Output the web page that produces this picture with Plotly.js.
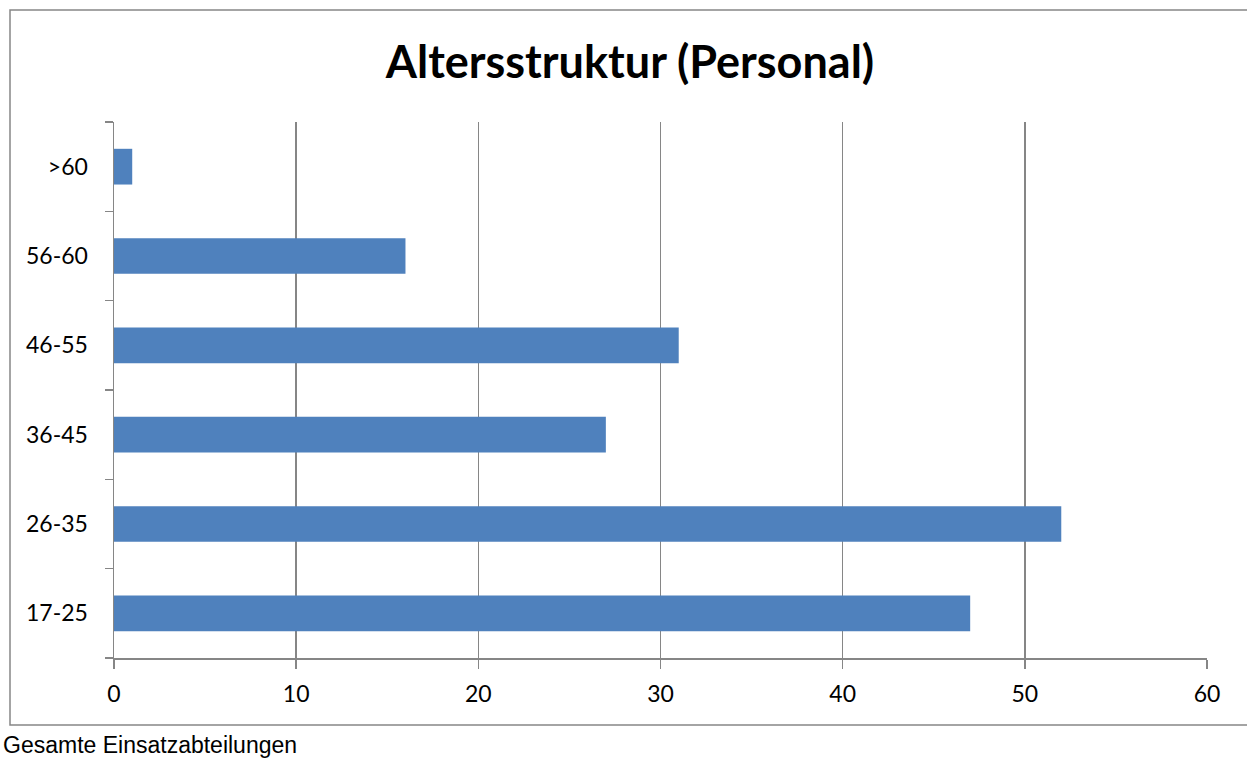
<!DOCTYPE html>
<html>
<head>
<meta charset="utf-8">
<script src="https://cdn.plot.ly/plotly-3.0.1.min.js"></script>
<style>
html,body{margin:0;padding:0;background:#fff;}
#chart{width:1247px;height:760px;}
</style>
</head>
<body>
<div id="chart"></div>
<script>
const categories = ['17-25', '26-35', '36-45', '46-55', '56-60', '>60'];
const values = [47, 52, 27, 31, 16, 1];
const xTicks = [0, 10, 20, 30, 40, 50, 60];
const titleText = 'Altersstruktur (Personal)';
const captionText = 'Gesamte Einsatzabteilungen';

const W = 1247, H = 760;
const L = 114, R = 1207, T = 122, B = 658;
const px = v => (v - L) / (R - L);
const py = v => (B - v) / (B - T);

const grey = '#868686';
const font = 'Lato, "Open Sans", sans-serif';

const trace = {
  type: 'bar',
  orientation: 'h',
  y: categories,
  x: values,
  marker: {color: '#4F81BD', line: {width: 0}},
  hoverinfo: 'x+y'
};

const layout = {
  width: W, height: H,
  margin: {l: L, r: W - R, t: T, b: H - B, pad: 0},
  paper_bgcolor: '#fff',
  plot_bgcolor: '#fff',
  showlegend: false,
  bargap: 0.6,
  title: {
    text: '<b>' + titleText + '</b>',
    font: {family: font, size: 45, color: '#000'},
    x: 630 / W, xanchor: 'center', xref: 'container',
    y: 1 - 62 / H, yanchor: 'middle', yref: 'container'
  },
  xaxis: {
    range: [0, 60],
    tickvals: xTicks,
    ticktext: xTicks.map(String),
    showgrid: true, gridcolor: grey, gridwidth: 1.5,
    zeroline: false,
    showline: true, linecolor: grey, linewidth: 1.5,
    ticks: 'outside', ticklen: 9, tickcolor: grey, tickwidth: 1.5,
    tickfont: {family: font, size: 23, color: '#000'},
    ticklabelstandoff: 6,
    fixedrange: true
  },
  yaxis: {
    type: 'category',
    categoryorder: 'array',
    categoryarray: categories,
    range: [-0.5, 5.5],
    showgrid: false, zeroline: false,
    showline: true, linecolor: grey, linewidth: 1.5,
    ticks: 'outside', ticklen: 8, tickcolor: grey, tickwidth: 1.5,
    tickson: 'boundaries',
    tickfont: {family: font, size: 23, color: '#000'},
    ticklabelstandoff: 20,
    fixedrange: true
  },
  shapes: [{
    type: 'rect', xref: 'paper', yref: 'paper',
    x0: px(10), x1: px(1252), y0: py(725), y1: py(10),
    line: {color: grey, width: 1.5}, fillcolor: 'rgba(0,0,0,0)', layer: 'below'
  }],
  annotations: [{
    text: captionText, xref: 'paper', yref: 'paper',
    x: px(1), y: py(745), xanchor: 'left', yanchor: 'middle',
    showarrow: false,
    font: {family: '"Liberation Sans", Arial, sans-serif', size: 23, color: '#000'}
  }]
};

Plotly.newPlot('chart', [trace], layout, {displayModeBar: false, staticPlot: true});
</script>
</body>
</html>
